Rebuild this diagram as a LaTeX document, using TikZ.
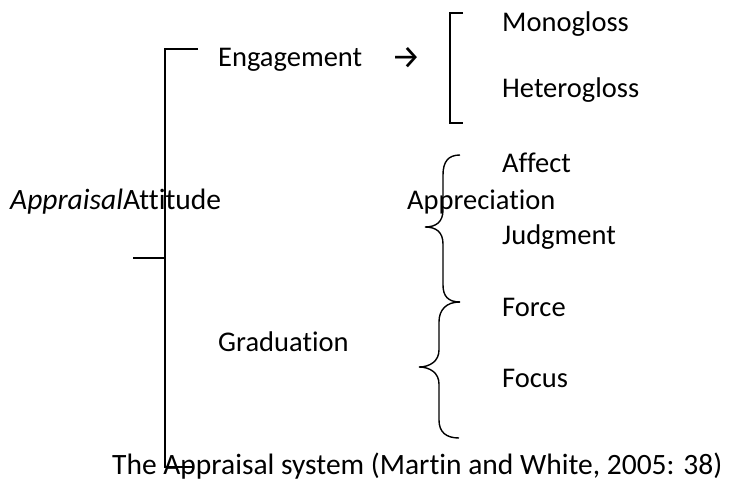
\documentclass[tikz,border=0pt]{standalone}
\usepackage{fontspec}
\setmainfont{Carlito}[Ligatures={NoCommon,NoContextual}]
\newfontfamily\arrowfont{Fira Sans}
\begin{document}
\begin{tikzpicture}[x=1pt,y=-1pt,
  label/.style={inner sep=0pt,anchor=base west,font=\fontsize{28.5}{34}\selectfont},
  biglabel/.style={label,font=\fontsize{29.5}{35}\selectfont},
  bracket/.style={line width=1.6pt,black},
  brace/.style={line width=1.4pt,black}]
\useasboundingbox (0,0) rectangle (729,481);

% terms of the system
\node[biglabel] (appraisal) at (10,210) {\textit{Appraisal}Attitude};
\node[label] (engagement) at (218,67) {Engagement};
\node[inner sep=0pt,anchor=center,font=\arrowfont\fontsize{33}{38}\selectfont] (arrow) at (406,58) {→};
\node[label] (mono) at (502,32) {Monogloss};
\node[label] (hetero) at (502,98) {Heterogloss};
\node[label] (appreciation) at (407,210) {Appreciation};
\node[label] (affect) at (502,173) {Affect};
\node[label] (judgment) at (502,245) {Judgment};
\node[label] (graduation) at (218,352) {Graduation};
\node[label] (force) at (502,317) {Force};
\node[label] (focus) at (502,388) {Focus};
\node[biglabel] (caption) at (112,474) {The Appraisal system (Martin and White, 2005: 38)};

% main square bracket
\coordinate (mTop) at (198,49);
\coordinate (mBot) at (194,467);
\coordinate (mTick) at (133,258);
\draw[bracket] (mTop) -- (165,49) -- (165,467) -- (mBot);
\draw[bracket] (mTick) -- (165,258);

% engagement bracket
\coordinate (eTop) at (463,13);
\coordinate (eBot) at (463,123);
\draw[bracket] (eTop) -- (450,13) -- (450,123) -- (eBot);

% attitude brace
\draw[brace] (460,155) .. controls (448,155) and (443,162) .. (443,175)
  -- (443,210) .. controls (443,222) and (436,227) .. (425,227)
  .. controls (436,227) and (443,232) .. (443,244)
  -- (443,285) .. controls (443,296) and (448,302) .. (460,302);

% graduation brace
\draw[brace] (460,302) .. controls (446,302) and (439,310) .. (439,322)
  -- (439,350) .. controls (439,361) and (430,367) .. (419,367)
  .. controls (430,367) and (439,373) .. (439,384)
  -- (439,420) .. controls (439,432) and (446,438) .. (459,438);
\end{tikzpicture}
\end{document}
